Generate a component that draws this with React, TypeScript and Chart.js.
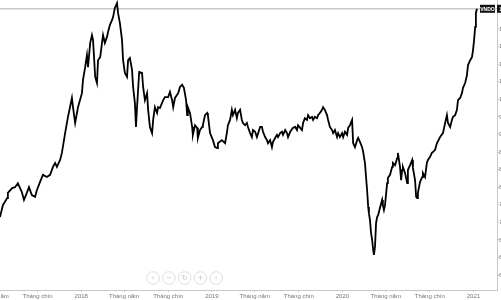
import React, { useEffect, useRef } from "react";
import { Chart, registerables } from "chart.js";

Chart.register(...registerables);

const SERIES_NAME = "VNDO";
const START_DATE = "2017-05-19";
const END_DAY = 1389;
const LAST_PRICE = 1206;

// days since START_DATE
const dayOffsets = [
  0, 8, 20, 22, 34, 42, 50, 56, 61, 67, 75, 81, 89, 98, 103, 112, 120, 131, 140, 148, 154, 159, 168, 173,
  182, 190, 201, 204, 210, 218, 229, 232, 238, 243, 246, 252, 257, 260, 266, 271, 274, 280, 285, 288, 293, 299, 302, 307, 313, 316, 321, 327, 330, 335, 341, 344, 349, 355, 358, 363, 369, 372, 377, 380, 383, 389, 397, 400, 405, 411, 414, 419, 425, 428, 433, 439, 442,
  447, 456, 461, 470, 475, 481, 484, 489, 498, 503, 509, 514, 520, 523, 525, 531, 537, 539, 545, 551, 553, 559, 565, 567, 573, 579, 581, 587, 595, 601, 607, 609, 620, 629, 634, 637, 643, 648, 651, 657, 662, 665, 671, 676, 679, 685, 690, 693, 699, 704, 707, 713, 718, 727, 732, 735, 741, 746, 749, 755, 760, 763, 769, 774, 777, 783, 788, 791, 797, 802, 805, 811, 819, 825, 830, 833, 839, 844, 847, 852, 858, 861, 866, 872, 875, 880, 886, 889, 894, 900, 903, 908, 914, 917, 922,
  928, 931, 936, 942, 945, 950, 956, 959, 964, 970, 973, 978, 984, 987, 992, 998, 1001, 1006, 1012, 1015, 1020, 1023, 1026, 1029, 1031, 1034, 1037, 1040, 1043, 1045, 1048, 1051, 1054, 1057, 1062, 1068, 1070, 1073, 1076, 1082, 1084, 1090, 1096, 1098, 1104, 1110, 1112, 1118, 1121, 1124, 1126, 1132, 1138, 1140, 1146, 1152, 1154, 1160, 1163, 1166, 1168, 1174, 1180, 1182, 1188, 1193, 1196, 1202, 1207, 1210, 1216, 1221, 1230, 1238, 1244, 1249, 1252, 1258, 1263, 1266, 1272, 1277, 1280, 1286, 1291, 1294, 1300, 1305, 1308, 1314, 1319, 1322, 1325, 1328, 1330, 1333,
];

const closeValues = [
  732, 759, 775, 787, 798, 800, 809, 798, 789, 771, 787, 800, 782, 778, 793, 812, 828, 823, 828, 846, 855, 846, 862, 878,
  923, 960, 1003, 982, 946, 982, 1014, 1044, 1073, 1101, 1073, 1128, 1146, 1135, 1051, 1037, 1089, 1096, 1128, 1146, 1128, 1142, 1153, 1169, 1180, 1187, 1208, 1219, 1196, 1174, 1135, 1089, 1060, 1051, 1089, 1094, 1067, 1028, 992, 937, 982, 1062, 1060, 1028, 998, 1014, 976, 937, 923, 953, 982, 969, 982,
  980, 998, 1005, 1005, 1017, 998, 982, 1003, 1014, 1028, 1033, 1026, 998, 964, 982, 969, 937, 919, 941, 935, 912, 930, 937, 941, 964, 969, 964, 923, 907, 891, 889, 900, 907, 900, 923, 941, 953, 976, 964, 976, 957, 969, 976, 953, 946, 941, 946, 937, 923, 914, 930, 926, 914, 937, 937, 926, 914, 907, 900, 907, 891, 903, 912, 919, 914, 923, 926, 919, 930, 923, 914, 926, 935, 937, 930, 941, 935, 930, 946, 957, 953, 964, 957, 960, 953, 960, 957, 964, 969, 976, 982, 976, 964, 953, 937,
  930, 923, 930, 914, 923, 914, 923, 914, 926, 919, 935, 941, 953, 900, 891, 907, 912, 903, 891, 880, 855, 823, 793, 755, 741, 725, 696, 680, 657, 646, 664, 718, 732, 737, 753, 771, 759, 748, 759, 809, 821, 828, 846, 855, 850, 866, 878, 846, 816, 839, 846, 832, 809, 839, 850, 862, 844, 816, 778, 775, 787, 812, 823, 832, 823, 855, 862, 869, 878, 880, 885, 900, 914, 923, 946, 964, 946, 937, 953, 960, 964, 976, 998, 1003, 1014, 1026, 1037, 1055, 1078, 1089, 1096, 1112, 1135, 1165, 1196, 1206,
];

const yTickValues = [600, 640, 680, 720, 760, 800, 840, 880, 920, 960, 1000, 1040, 1080, 1120, 1160];

const xTickDates = [
  "2017-05-01", "2017-09-01", "2018-01-01", "2018-05-01", "2018-09-01", "2019-01-01",
  "2019-05-01", "2019-09-01", "2020-01-01", "2020-05-01", "2020-09-01", "2021-01-01",
];
const xTickLabels = [
  "Tháng năm", "Tháng chín", "2018", "Tháng năm", "Tháng chín", "2019",
  "Tháng năm", "Tháng chín", "2020", "Tháng năm", "Tháng chín", "2021",
];

const navIcons = ["‹", "−", "↻", "+", "›"];

const dayOf = (d: string) => (Date.parse(d) - Date.parse(START_DATE)) / 86400000;

const FONT = '"Liberation Sans", Arial, sans-serif';

const overlayPlugin = {
  id: "overlay",
  afterDraw(chart: any) {
    const { ctx, chartArea, scales } = chart;
    const y = scales.y.getPixelForValue(LAST_PRICE);
    ctx.save();
    // series label
    ctx.fillStyle = "#111";
    ctx.fillRect(chartArea.right - 17, y - 4, 15, 8);
    ctx.fillStyle = "#fff";
    ctx.font = `bold 5px ${FONT}`;
    ctx.textAlign = "center";
    ctx.textBaseline = "middle";
    ctx.fillText(SERIES_NAME, chartArea.right - 9.5, y + 0.5);
    // price box on the axis
    ctx.fillStyle = "#111";
    ctx.fillRect(chartArea.right, y - 4, 12, 8);
    ctx.fillStyle = "#fff";
    ctx.textAlign = "left";
    ctx.font = `5px ${FONT}`;
    ctx.fillText(String(LAST_PRICE), chartArea.right + 2, y + 0.5);
    // navigation buttons
    navIcons.forEach((icon, i) => {
      const cx = chartArea.left + 153 + i * 15.8;
      const cy = chartArea.bottom - 12;
      ctx.beginPath();
      ctx.arc(cx, cy, 6.3, 0, Math.PI * 2);
      ctx.fillStyle = "rgba(255,255,255,0.9)";
      ctx.fill();
      ctx.lineWidth = 1;
      ctx.strokeStyle = "#dedede";
      ctx.stroke();
      ctx.fillStyle = "#bdbdbd";
      ctx.font = `7px "DejaVu Sans", sans-serif`;
      ctx.textAlign = "center";
      ctx.textBaseline = "middle";
      ctx.fillText(icon, cx, cy + 0.5);
    });
    ctx.restore();
  },
};

export default function App() {
  const ref = useRef<HTMLCanvasElement | null>(null);

  useEffect(() => {
    if (!ref.current) return;
    const n = Math.min(dayOffsets.length, closeValues.length);
    const points = [];
    for (let i = 0; i < n; i++) points.push({ x: dayOffsets[i], y: closeValues[i] });

    const chart = new Chart(ref.current, {
      type: "line",
      data: {
        datasets: [
          {
            label: SERIES_NAME,
            data: points,
            borderColor: "#000",
            borderWidth: 1.8,
            pointRadius: 0,
            tension: 0,
            order: 0,
          },
          {
            label: "last",
            data: [
              { x: 0, y: LAST_PRICE },
              { x: END_DAY, y: LAST_PRICE },
            ],
            borderColor: "#c8c8c8",
            borderWidth: 1.5,
            pointRadius: 0,
            order: 1,
          },
        ],
      },
      options: {
        animation: false,
        responsive: false,
        devicePixelRatio: 1,
        layout: { padding: 0 },
        plugins: { legend: { display: false }, tooltip: { enabled: false } },
        scales: {
          x: {
            type: "linear",
            min: 0,
            max: END_DAY,
            bounds: "data",
            afterBuildTicks: (scale: any) => {
              scale.ticks = xTickDates.map((d) => ({ value: dayOf(d) }));
            },
            afterFit: (scale: any) => {
              scale.height = 10;
              scale.paddingLeft = 0;
              scale.paddingRight = 0;
            },
            ticks: {
              autoSkip: false,
              maxRotation: 0,
              padding: 1,
              color: "#777",
              font: { size: 6, family: FONT },
              callback: (_v: any, i: number) => xTickLabels[i],
            },
            grid: { drawOnChartArea: false, tickLength: 2, color: "#c8c8c8" },
            border: { color: "#c8c8c8", width: 1 },
          },
          y: {
            position: "right",
            min: 565.9,
            max: 1226,
            bounds: "data",
            afterBuildTicks: (scale: any) => {
              scale.ticks = yTickValues.map((v) => ({ value: v }));
            },
            afterFit: (scale: any) => {
              scale.width = 4;
              scale.paddingTop = 0;
              scale.paddingBottom = 0;
            },
            ticks: {
              padding: 0,
              color: "#777",
              font: { size: 6, family: FONT },
              callback: (v: any) => Number(v).toFixed(2),
            },
            grid: { drawOnChartArea: false, tickLength: 2, color: "#c8c8c8" },
            border: { color: "#c8c8c8", width: 1 },
          },
        },
      },
      plugins: [overlayPlugin],
    });
    return () => chart.destroy();
  }, []);

  return (
    <div style={{ position: "fixed", left: 0, top: 0, width: 501, height: 300, background: "#fff" }}>
      <canvas ref={ref} width={501} height={300} style={{ display: "block" }} />
    </div>
  );
}
